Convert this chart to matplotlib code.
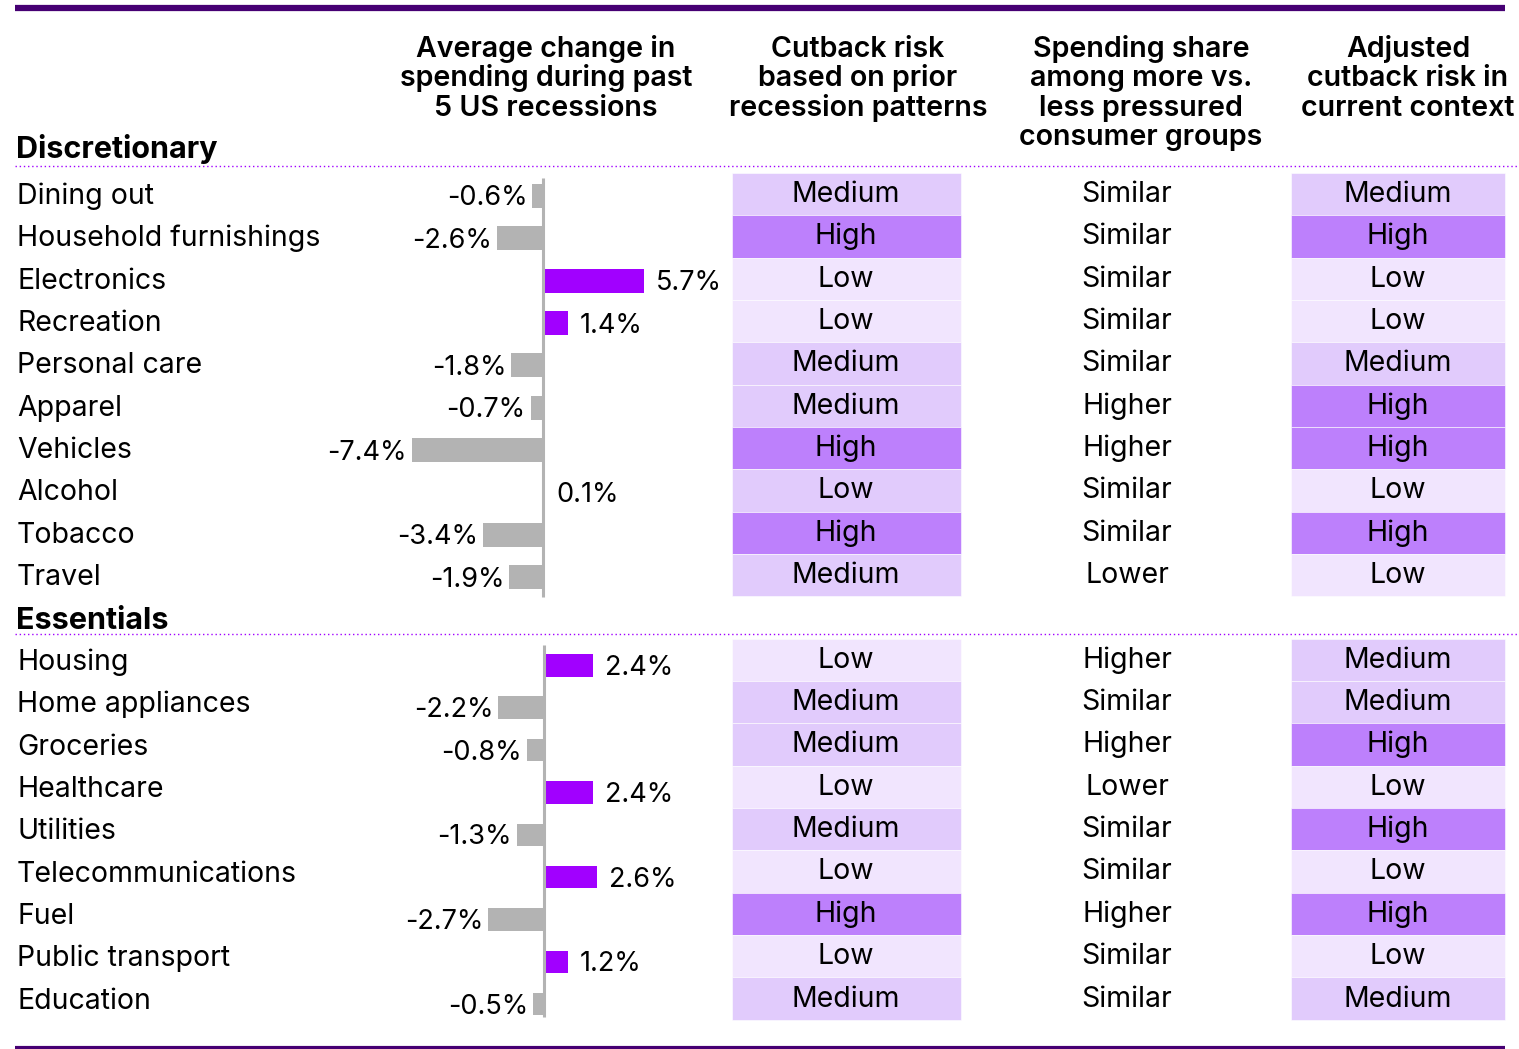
import matplotlib
matplotlib.use("Agg")
import matplotlib.pyplot as plt

plt.rcParams['font.family'] = ['Inter', 'DejaVu Sans']

# ---------------- data ----------------
disc_cats = ["Dining out", "Household furnishings", "Electronics", "Recreation",
             "Personal care", "Apparel", "Vehicles", "Alcohol", "Tobacco", "Travel"]
disc_vals = [-0.6, -2.6, 5.7, 1.4, -1.8, -0.7, -7.4, 0.1, -3.4, -1.9]
disc_cut = ["Medium", "High", "Low", "Low", "Medium", "Medium", "High", "Low", "High", "Medium"]
disc_cut_shade = ["Medium", "High", "Low", "Low", "Medium", "Medium", "High", "Medium", "High", "Medium"]
disc_share = ["Similar", "Similar", "Similar", "Similar", "Similar", "Higher", "Higher",
              "Similar", "Similar", "Lower"]
disc_adj = ["Medium", "High", "Low", "Low", "Medium", "High", "High", "Low", "High", "Low"]

ess_cats = ["Housing", "Home appliances", "Groceries", "Healthcare", "Utilities",
            "Telecommunications", "Fuel", "Public transport", "Education"]
ess_vals = [2.4, -2.2, -0.8, 2.4, -1.3, 2.6, -2.7, 1.2, -0.5]
ess_cut = ["Low", "Medium", "Medium", "Low", "Medium", "Low", "High", "Low", "Medium"]
ess_cut_shade = ess_cut
ess_share = ["Higher", "Similar", "Higher", "Lower", "Similar", "Similar", "Higher",
             "Similar", "Similar"]
ess_adj = ["Medium", "Medium", "High", "Low", "High", "Low", "High", "Low", "Medium"]

headers = [
    ["Average change in", "spending during past", "5 US recessions"],
    ["Cutback risk", "based on prior", "recession patterns"],
    ["Spending share", "among more vs.", "less pressured", "consumer groups"],
    ["Adjusted", "cutback risk in", "current context"],
]
groups = ["Discretionary", "Essentials"]

# ---------------- style ----------------
W, H = 1519, 1049
DPI = 100
shade = {"Low": "#F1E5FE", "Medium": "#E1CBFC", "High": "#BD80FC"}
POS = "#A100FF"
NEG = "#B3B3B3"
DARK = "#460073"
ROW0 = 194.0
PITCH = 42.35
PX = 72.0 / DPI  # points per pixel


def prow(y):
    return (y - ROW0) / PITCH


BASE = 10.0 / PITCH  # baseline offset (rows) so caps are centred on the row

fig = plt.figure(figsize=(W / DPI, H / DPI), dpi=DPI)
ax = fig.add_axes([0, 0, 1, 1])
ax.set_xlim(0, W)
ax.set_ylim(prow(H), prow(0))
ax.axis("off")

disc_rows = list(range(len(disc_cats)))
ess_rows = [len(disc_cats) + 1 + i for i in range(len(ess_cats))]

FS = 20.5
VFS = 19.5


def bar_panel(rows, vals, zero_px, ppx, shift, height, line_top, line_bot):
    bx0, bx1 = 330, 730
    a = fig.add_axes([bx0 / W, 0, (bx1 - bx0) / W, 1])
    a.set_xlim((bx0 - zero_px) / ppx, (bx1 - zero_px) / ppx)
    a.set_ylim(prow(H - shift), prow(0 - shift))
    a.axis("off")
    a.patch.set_alpha(0)
    colors = [POS if v > 0 else NEG for v in vals]
    a.barh(rows, vals, height=height, color=colors, zorder=2)
    for r, v in zip(rows, vals):
        lab = f"{v:.1f}%"
        if v > 0:
            a.annotate(lab, (v, r + 9.5 / PITCH), xytext=(12 * PX, 0), textcoords="offset points",
                       ha="left", va="baseline", fontsize=VFS, color="black")
        else:
            a.annotate(lab, (v, r + 9.5 / PITCH), xytext=(-5 * PX, 0), textcoords="offset points",
                       ha="right", va="baseline", fontsize=VFS, color="black")
    a.vlines(0, prow(line_top - shift), prow(line_bot - shift), color=NEG, lw=2.2, zorder=3)
    return a


bar_panel(disc_rows, disc_vals, 543.0, 17.7, 2.0, 0.57, 178, 597)
bar_panel(ess_rows, ess_vals, 543.5, 20.5, 5.5, 0.53, 645, 1017)

cats = disc_cats + ess_cats
cut = disc_cut + ess_cut
cut_shade = disc_cut_shade + ess_cut_shade
share = disc_share + ess_share
adj = disc_adj + ess_adj
rows = disc_rows + ess_rows

# row labels
for r, c in zip(rows, cats):
    ax.text(17, r + BASE, c, ha="left", va="baseline", fontsize=FS, color="black")

# cells: cutback risk
ax.barh(rows, 229, left=732, height=1.0, color=[shade[s] for s in cut_shade],
        edgecolor="white", linewidth=0.4)
for r, t in zip(rows, cut):
    ax.text(846, r + BASE - 0.05, t, ha="center", va="baseline", fontsize=FS, color="black")
# spending share
for r, t in zip(rows, share):
    ax.text(1127, r + BASE - 0.05, t, ha="center", va="baseline", fontsize=FS, color="black")
# adjusted
ax.barh(rows, 214, left=1291, height=1.0, color=[shade[s] for s in adj],
        edgecolor="white", linewidth=0.4)
for r, t in zip(rows, adj):
    ax.text(1398, r + BASE - 0.05, t, ha="center", va="baseline", fontsize=FS, color="black")

# headers
hx = [546, 858, 1141, 1408]
line_y = [57, 86.5, 116, 145.5]
for x, lines in zip(hx, headers):
    for i, ln in enumerate(lines):
        ax.text(x, prow(line_y[i]), ln, ha="center", va="baseline", fontsize=20.6,
                fontweight="semibold", color="black")

# group headings
ax.text(16, prow(158), groups[0], ha="left", va="baseline", fontsize=22,
        fontweight="bold", color="black")
ax.text(16, prow(629), groups[1], ha="left", va="baseline", fontsize=22,
        fontweight="bold", color="black")

# dotted separators
for yy in (166, 634):
    ax.plot([15, 1517], [prow(yy), prow(yy)], color=POS, lw=1.0, ls=(0, (1, 2)))

# top/bottom rules
ax.plot([15, 1505], [prow(8), prow(8)], color=DARK, lw=4.5, solid_capstyle="butt")
ax.plot([15, 1505], [prow(1047.5), prow(1047.5)], color=DARK, lw=3, solid_capstyle="butt")

fig.savefig("out.png", dpi=DPI)
